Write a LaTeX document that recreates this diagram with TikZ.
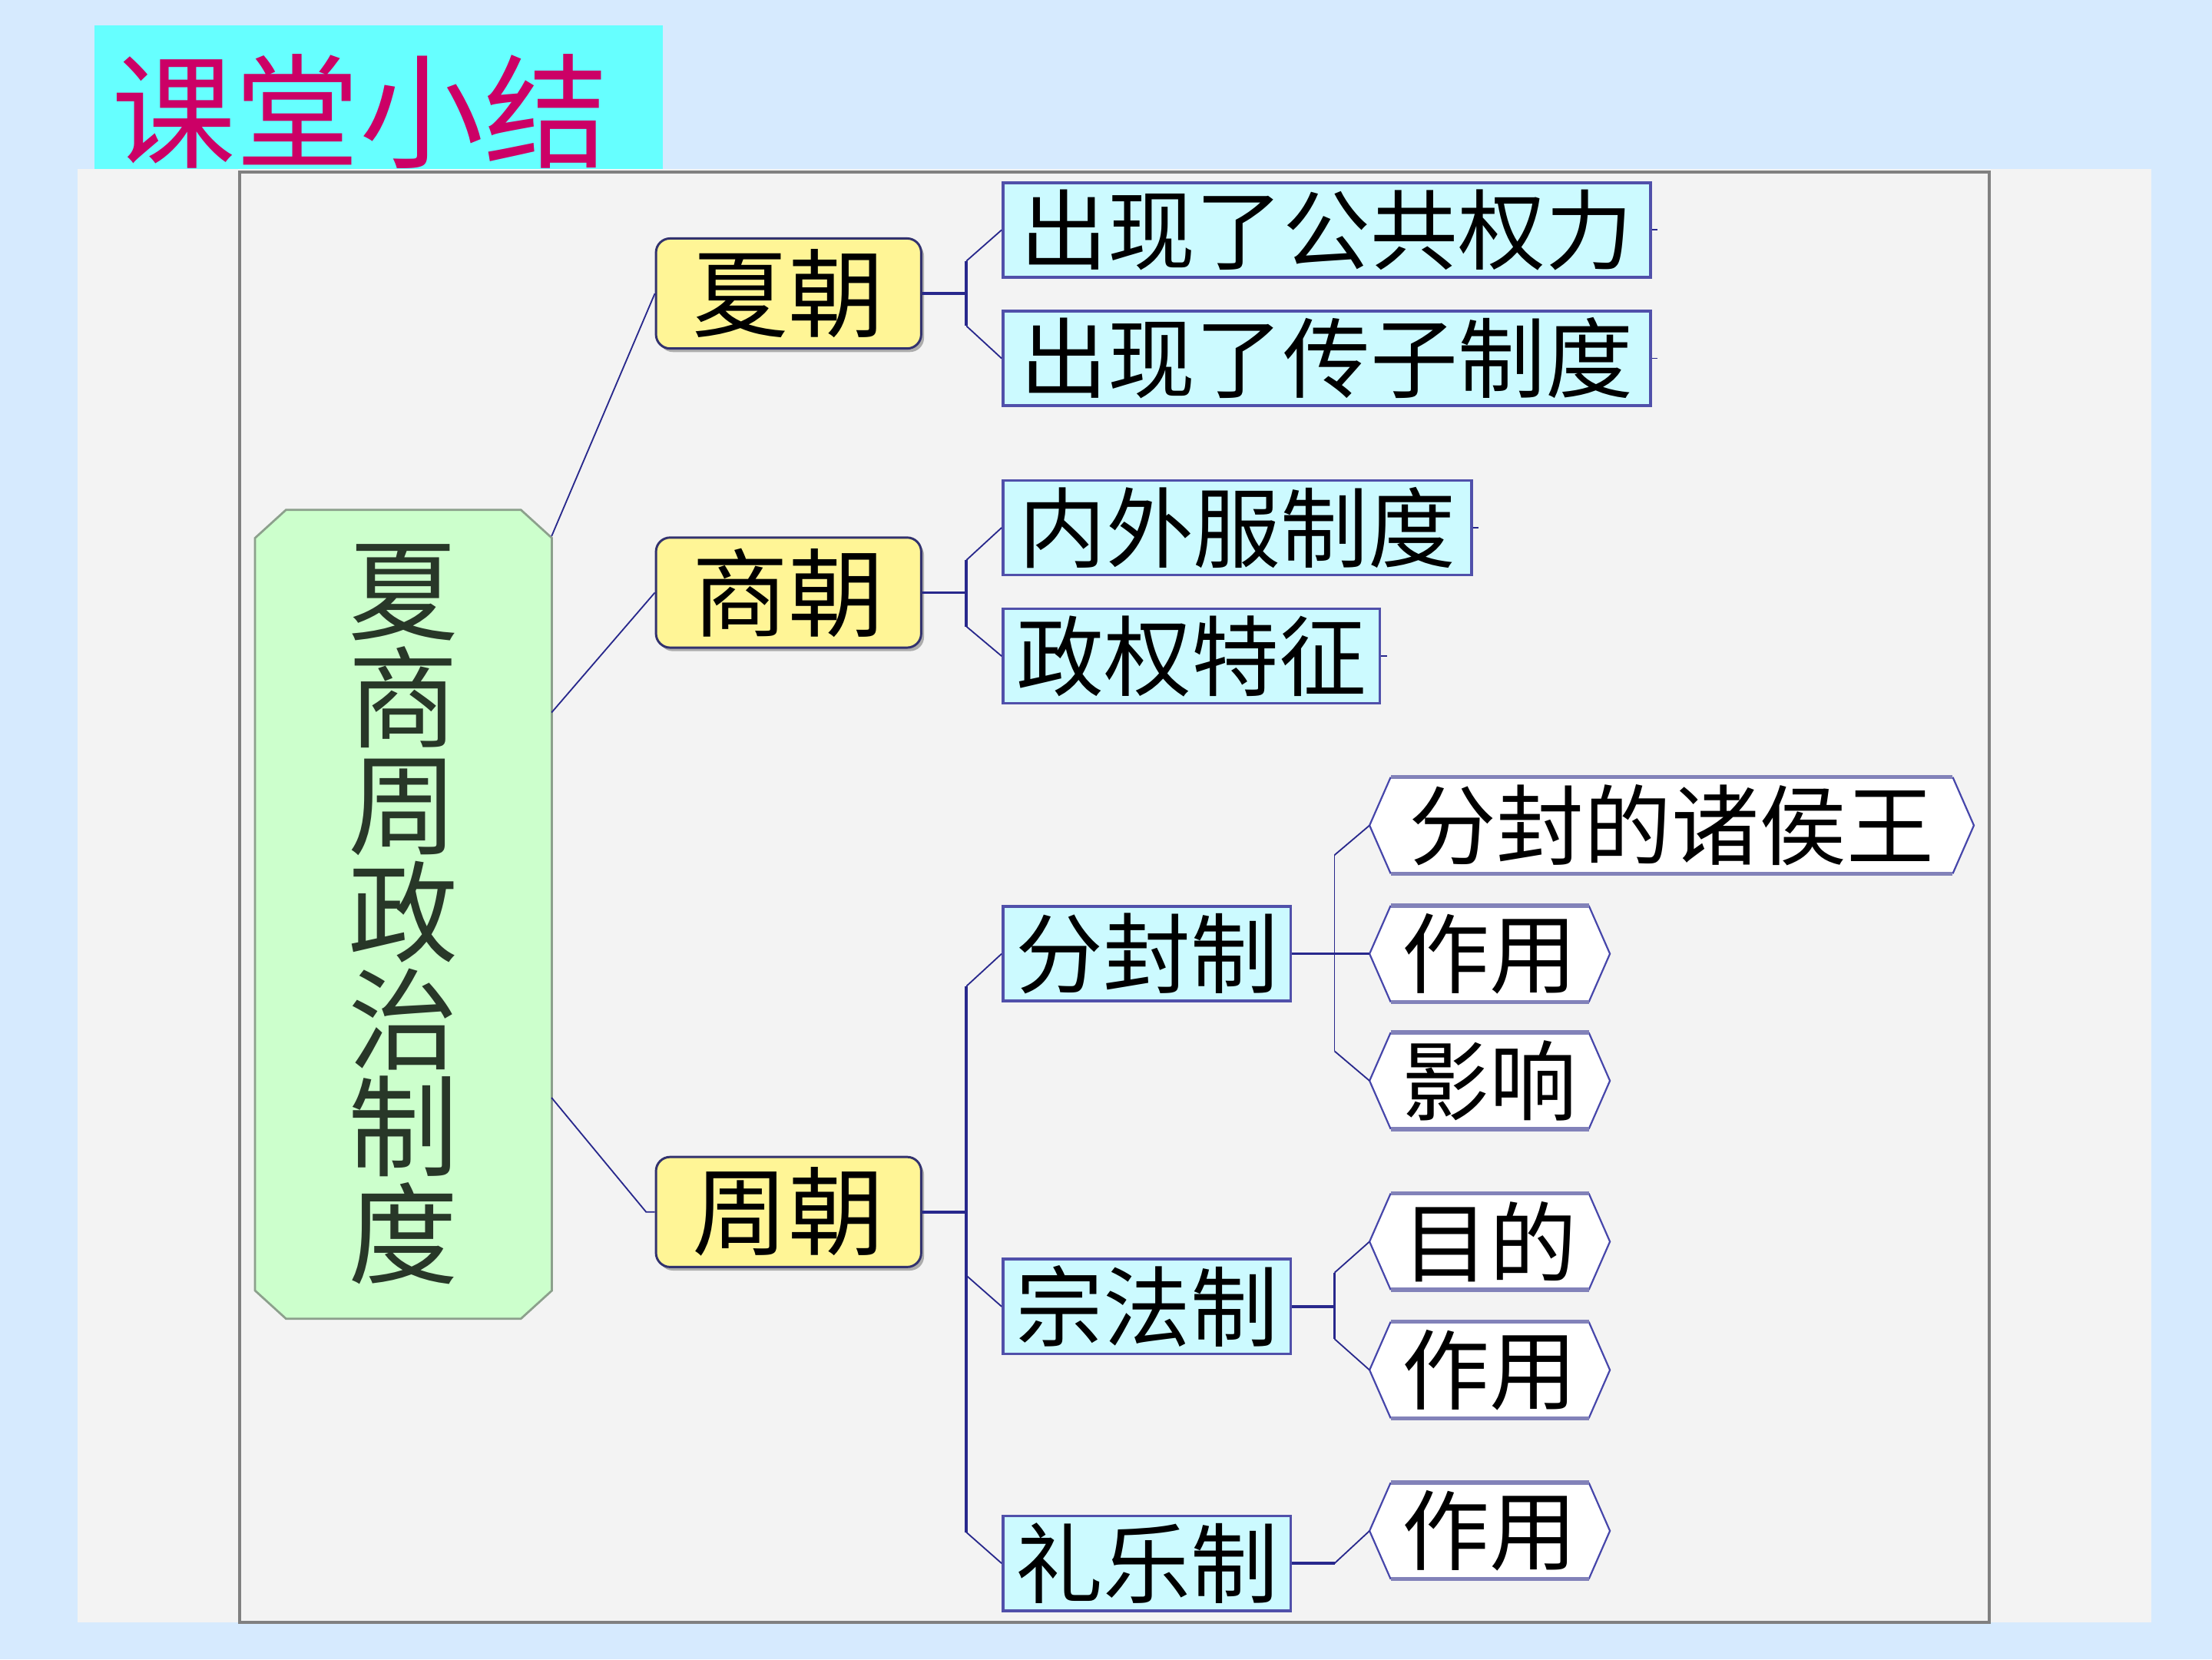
\documentclass[tikz,border=0pt]{standalone}
\usepackage{fontspec}
\newfontfamily\cjk{Noto Sans CJK SC}
\usetikzlibrary{shadows}
\pgfdeclarelayer{bgA}
\pgfdeclarelayer{bgB}
\pgfsetlayers{bgA,bgB,main}
\definecolor{bgblue}{RGB}{214,234,254}
\definecolor{panelc}{RGB}{243,243,243}
\definecolor{framec}{RGB}{128,128,128}
\definecolor{titlebox}{RGB}{102,255,255}
\definecolor{titletext}{RGB}{204,0,102}
\definecolor{rootfill}{RGB}{204,255,204}
\definecolor{rootline}{RGB}{140,160,140}
\definecolor{roottext}{RGB}{40,55,40}
\definecolor{yfill}{RGB}{255,245,150}
\definecolor{yline}{RGB}{50,50,110}
\definecolor{cfill}{RGB}{204,250,255}
\definecolor{cline}{RGB}{80,80,170}
\definecolor{hexside}{RGB}{70,70,170}
\definecolor{hextop}{RGB}{130,130,185}
\definecolor{connc}{RGB}{40,40,140}
\begin{document}
\begin{tikzpicture}[x=1pt,y=-1pt,
  lvone/.style={rectangle, rounded corners=10pt, fill=yfill, draw=yline, line width=1.6pt,
    minimum width=188pt, minimum height=78pt, inner sep=0pt,
    font=\cjk\fontsize{68}{68}\selectfont,
    drop shadow={shadow xshift=2pt, shadow yshift=-2.5pt, fill=black!60}},
  lvtwo/.style={rectangle, fill=cfill, draw=cline, line width=2pt, minimum height=67pt,
    inner sep=0pt, font=\cjk\fontsize{62}{62}\selectfont},
  hexnode/.style={rectangle, minimum height=68pt, inner sep=0pt,
    font=\cjk\fontsize{62}{62}\selectfont},
  rootnode/.style={rectangle, minimum width=210pt, minimum height=573pt, inner sep=0pt,
    align=center, text=roottext, font=\cjk\fontsize{78}{76}\selectfont},
  conn/.style={draw=connc, line width=1pt},
  connthick/.style={draw=connc, line width=2pt},
  hexsideline/.style={draw=hexside, line width=1.2pt},
  hextopline/.style={draw=hextop, line width=3pt}
]
\useasboundingbox (0,0) rectangle (1568,1176);

% nodes
\node[inner sep=0pt, text=titletext, font=\cjk\fontsize{88}{88}\selectfont] (title) at (255,79) {课堂小结};
\node[rootnode] (root) at (286,648) {夏\\商\\周\\政\\治\\制\\度};

\node[lvone] (xia) at (559,208) {夏朝};
\node[lvone] (shang) at (559,420) {商朝};
\node[lvone] (zhou) at (559,859) {周朝};

\node[lvtwo, minimum width=459pt] (xia1) at (940.5,163) {出现了公共权力};
\node[lvtwo, minimum width=459pt] (xia2) at (940.5,254) {出现了传子制度};
\node[lvtwo, minimum width=332pt] (shang1) at (877,374) {内外服制度};
\node[lvtwo, minimum width=267pt] (shang2) at (844.5,465) {政权特征};
\node[lvtwo, minimum width=204pt] (fen) at (813,676) {分封制};
\node[lvtwo, minimum width=204pt] (zong) at (813,926) {宗法制};
\node[lvtwo, minimum width=204pt] (li) at (813,1108) {礼乐制};

\node[hexnode, minimum width=428pt] (f1) at (1185,585) {分封的诸侯王};
\node[hexnode, minimum width=170pt] (f2) at (1056,676) {作用};
\node[hexnode, minimum width=170pt] (f3) at (1056,766) {影响};
\node[hexnode, minimum width=170pt] (z1) at (1056,880) {目的};
\node[hexnode, minimum width=170pt] (z2) at (1056,971) {作用};
\node[hexnode, minimum width=170pt] (l1) at (1056,1085) {作用};

% backgrounds
\begin{pgfonlayer}{bgA}
  \fill[bgblue] (0,0) rectangle (1568,1176);
  \fill[titlebox] (67,18) rectangle (470,120);
  \fill[panelc] (55,120) rectangle (1525,1150);
  \draw[framec, line width=2pt] (170,122) rectangle (1410,1150);
\end{pgfonlayer}

\begin{pgfonlayer}{bgB}
  \filldraw[fill=rootfill, draw=rootline, line width=1.5pt]
    ([xshift=22pt]root.north west) -- ([xshift=-22pt]root.north east)
    -- ([yshift=-20pt]root.north east) -- ([yshift=20pt]root.south east)
    -- ([xshift=-22pt]root.south east) -- ([xshift=22pt]root.south west)
    -- ([yshift=20pt]root.south west) -- ([yshift=-20pt]root.north west) -- cycle;
  \foreach \n in {f1,f2,f3,z1,z2,l1}{
    \fill[white] (\n.west) -- ([xshift=15pt]\n.north west) -- ([xshift=-15pt]\n.north east)
      -- (\n.east) -- ([xshift=-15pt]\n.south east) -- ([xshift=15pt]\n.south west) -- cycle;
    \draw[hexsideline] ([xshift=15pt]\n.north west) -- (\n.west) -- ([xshift=15pt]\n.south west);
    \draw[hexsideline] ([xshift=-15pt]\n.north east) -- (\n.east) -- ([xshift=-15pt]\n.south east);
    \draw[hextopline] ([xshift=15pt]\n.north west) -- ([xshift=-15pt]\n.north east);
    \draw[hextopline] ([xshift=15pt]\n.south west) -- ([xshift=-15pt]\n.south east);
  }
\end{pgfonlayer}

% junction coordinates
\coordinate (ra) at (391,380);
\coordinate (rb) at (391,505);
\coordinate (rc) at (391,778);
\coordinate (rcz) at (458,859);
\coordinate (xs) at (685,208);
\coordinate (xst) at (685,185);
\coordinate (xsb) at (685,231);
\coordinate (ss) at (685,420);
\coordinate (sst) at (685,397);
\coordinate (ssb) at (685,444);
\coordinate (zs) at (685,859);
\coordinate (zst) at (685,699);
\coordinate (zsm) at (685,904);
\coordinate (zsb) at (685,1086);
\coordinate (fst) at (946,606);
\coordinate (fsb) at (946,745);
\coordinate (gs) at (946,926);
\coordinate (gst) at (946,902);
\coordinate (gsb) at (946,949);
\coordinate (ls) at (946,1108);

% connectors
\draw[conn] (ra) -- (xia.west);
\draw[conn] (rb) -- (shang.west);
\draw[conn] (rc) -- (rcz) -- (zhou.west);

\draw[connthick] (xia.east) -- (xs);
\draw[connthick] (xst) -- (xsb);
\draw[conn] (xst) -- (xia1.west);
\draw[conn] (xsb) -- (xia2.west);

\draw[connthick] (shang.east) -- (ss);
\draw[connthick] (sst) -- (ssb);
\draw[conn] (sst) -- (shang1.west);
\draw[conn] (ssb) -- (shang2.west);

\draw[connthick] (zhou.east) -- (zs);
\draw[connthick] (zst) -- (zsb);
\draw[conn] (zst) -- (fen.west);
\draw[conn] (zsm) -- (zong.west);
\draw[conn] (zsb) -- (li.west);

\draw[connthick] (fen.east) -- (f2.west);
\draw[conn] (fst) -- (fsb);
\draw[conn] (fst) -- (f1.west);
\draw[conn] (fsb) -- (f3.west);

\draw[connthick] (zong.east) -- (gs);
\draw[connthick] (gst) -- (gsb);
\draw[conn] (gst) -- (z1.west);
\draw[conn] (gsb) -- (z2.west);

\draw[connthick] (li.east) -- (ls);
\draw[conn] (ls) -- (l1.west);

% small stubs at right ends
\foreach \n in {xia1,xia2,shang1,shang2}{
  \draw[conn] (\n.east) -- ++(4,0);
}
\end{tikzpicture}
\end{document}
